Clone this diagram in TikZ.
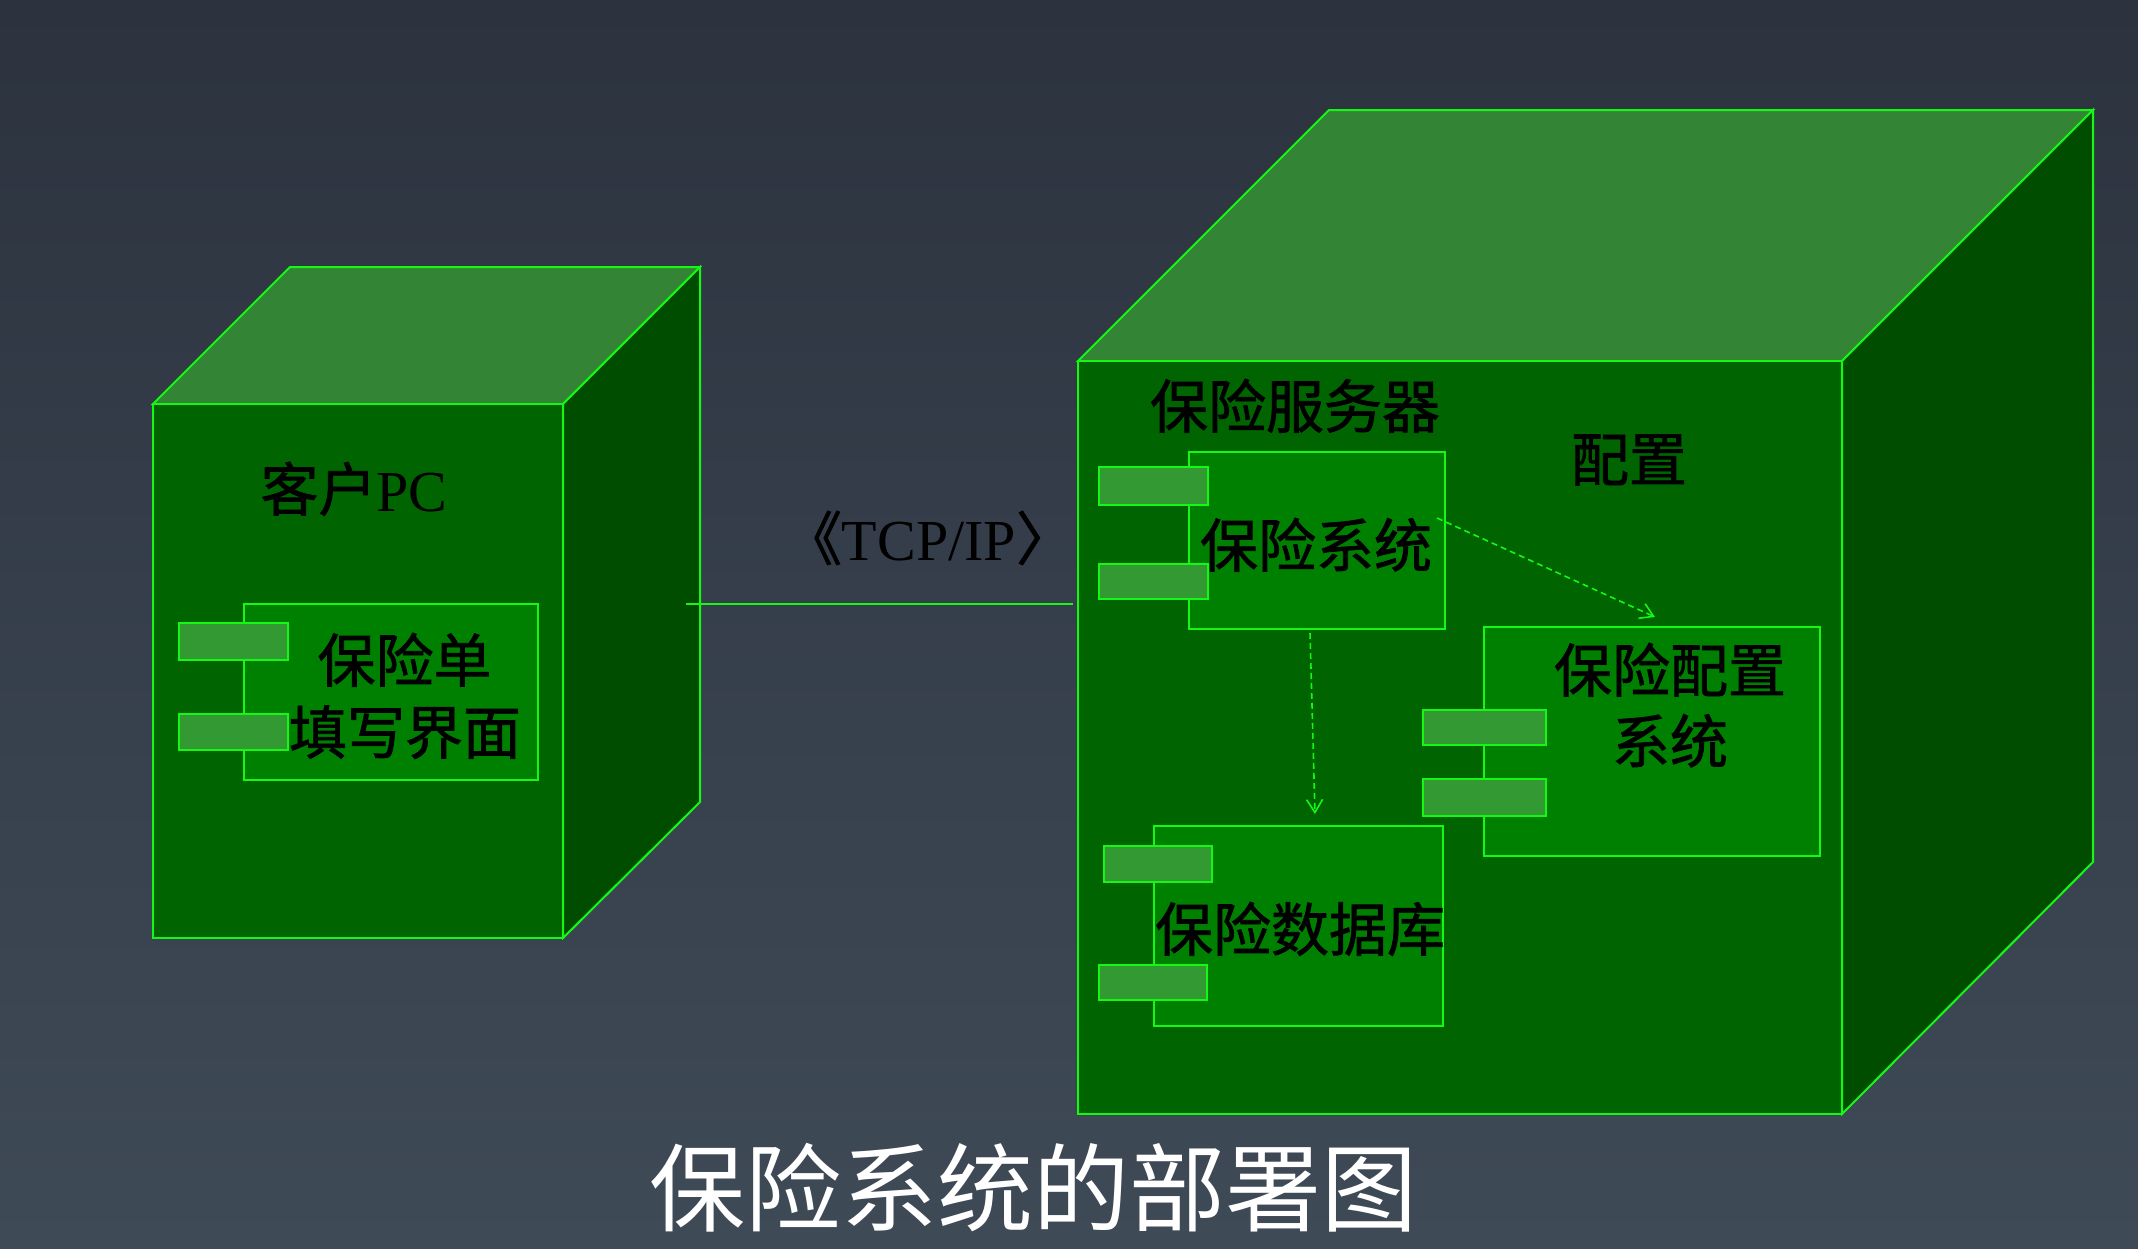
\documentclass[tikz,border=0pt]{standalone}
\usepackage{fontspec}
\setmainfont{Liberation Serif}
\newfontfamily\cjk[FakeBold=1.3]{Noto Sans CJK SC}
\newfontfamily\cjktitle{Noto Sans CJK SC}
\usetikzlibrary{arrows.meta}
\definecolor{bgtop}{RGB}{44,51,63}
\definecolor{bgbot}{RGB}{63,74,87}
\definecolor{topc}{RGB}{51,133,53}
\definecolor{frontc}{RGB}{0,100,0}
\definecolor{sidec}{RGB}{0,77,0}
\definecolor{compc}{RGB}{0,128,0}
\definecolor{portc}{RGB}{51,153,51}
\definecolor{ngreen}{RGB}{20,248,20}
\begin{document}
\begin{tikzpicture}[x=1pt,y=-1pt,
  face/.style={draw=ngreen, line width=2pt, line join=miter},
  compbox/.style={draw=ngreen, fill=compc, line width=2pt, inner sep=0pt, outer sep=0pt},
  portbox/.style={draw=ngreen, fill=portc, line width=2pt, inner sep=0pt, outer sep=0pt},
  lbl/.style={text=black, font=\fontsize{58}{64}\selectfont, inner sep=0pt, anchor=base},
  conn/.style={draw=ngreen, line width=2pt},
  dep/.style={draw=ngreen, line width=1.6pt, dash pattern=on 6pt off 4pt, -{Straight Barb[length=13pt,width=16pt,line width=1.6pt]}}
]
\useasboundingbox (0,0) rectangle (2138,1248);
\shade[top color=bgtop, bottom color=bgbot] (0,0) rectangle (2138,1248);

% left cube
\filldraw[face, fill=topc] (153,404) -- (290,267) -- (700,267) -- (563,404) -- cycle;
\filldraw[face, fill=sidec] (563,404) -- (700,267) -- (700,802) -- (563,938) -- cycle;
\filldraw[face, fill=frontc] (153,404) rectangle (563,938);

% right cube
\filldraw[face, fill=topc] (1078,361) -- (1329,110) -- (2093,110) -- (1842,361) -- cycle;
\filldraw[face, fill=sidec] (1842,361) -- (2093,110) -- (2093,862) -- (1842,1114) -- cycle;
\filldraw[face, fill=frontc] (1078,361) rectangle (1842,1114);

% components
\node[compbox, minimum width=294pt, minimum height=176pt] (pcui) at (391,692) {};
\node[portbox, minimum width=109pt, minimum height=37pt] (pcp1) at (233.5,641.5) {};
\node[portbox, minimum width=109pt, minimum height=36pt] (pcp2) at (233.5,731.5) {};

\node[compbox, minimum width=256pt, minimum height=177pt] (sys) at (1317,540.5) {};
\node[portbox, minimum width=109pt, minimum height=38pt] (sysp1) at (1153.5,486) {};
\node[portbox, minimum width=109pt, minimum height=35pt] (sysp2) at (1153.5,581.5) {};

\node[compbox, minimum width=336pt, minimum height=229pt] (cfg) at (1652,741.5) {};
\node[portbox, minimum width=123pt, minimum height=35pt] (cfgp1) at (1484.5,727.5) {};
\node[portbox, minimum width=123pt, minimum height=37pt] (cfgp2) at (1484.5,797.5) {};

\node[compbox, minimum width=289pt, minimum height=200pt] (db) at (1298.5,926) {};
\node[portbox, minimum width=108pt, minimum height=36pt] (dbp1) at (1158,864) {};
\node[portbox, minimum width=108pt, minimum height=35pt] (dbp2) at (1153,982.5) {};

% labels
\node[lbl] (pcname) at (354,511) {{\cjk 客户}PC};
\node[lbl] (pcl1) at (404.5,682) {\cjk 保险单};
\node[lbl] (pcl2) at (405,754) {\cjk 填写界面};
\node[lbl] (srvname) at (1295,428) {\cjk 保险服务器};
\node[lbl] (cfgname) at (1629,481) {\cjk 配置};
\node[lbl] (syslbl) at (1316,567) {\cjk 保险系统};
\node[lbl] (cfgl1) at (1670,692) {\cjk 保险配置};
\node[lbl] (cfgl2) at (1670,763) {\cjk 系统};
\node[lbl] (dblbl) at (1300,951) {\cjk 保险数据库};
\node[lbl] (tcp) at (929,560) {{\cjk 《}TCP/IP{\cjk 〉}};
\node[text=white, font=\cjktitle\fontsize{96}{100}\selectfont, inner sep=0pt, anchor=base] (title) at (1033,1224) {保险系统的部署图};

% connectors
\coordinate (tcpL) at (686,604);
\coordinate (tcpR) at (1073,604);
\draw[conn] (tcpL) -- (tcpR);
\coordinate (d1s) at (1437,518);
\coordinate (d1e) at (1655,617);
\coordinate (d2s) at (1310,633);
\coordinate (d2e) at (1315,814);
\draw[dep] (d1s) -- (d1e);
\draw[dep] (d2s) -- (d2e);
\end{tikzpicture}
\end{document}
